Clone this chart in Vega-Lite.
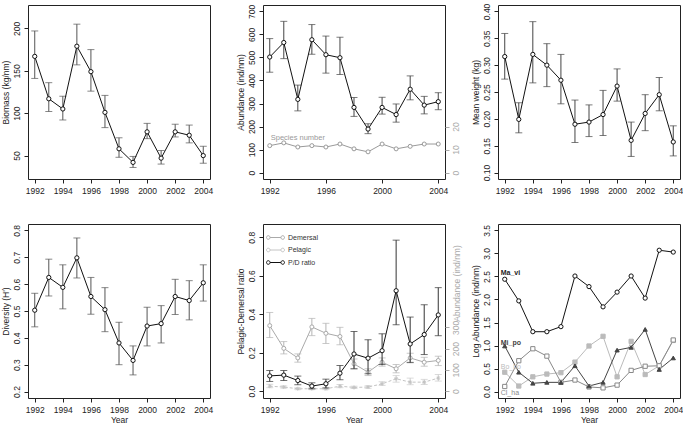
{
  "$schema": "https://vega.github.io/schema/vega-lite/v6.json",
  "background": "white",
  "padding": {"left": 0, "top": 2, "right": 0, "bottom": 0},
  "config": {
    "font": "Liberation Sans",
    "view": {"stroke": "#222", "strokeWidth": 1},
    "axis": {"grid": false, "domain": false, "ticks": true, "tickColor": "#222", "tickSize": 4, "tickWidth": 1, "labelColor": "#222", "labelFontSize": 8.5, "titleFontSize": 8.5, "titleFontWeight": "normal", "titleColor": "#222", "labelFlush": false, "labelOverlap": false, "labelFont": "Liberation Sans", "titleFont": "Liberation Sans"},
    "axisX": {"labelAngle": 0, "labelPadding": 3, "titlePadding": 2},
    "axisY": {"labelAngle": -90, "labelAlign": "center"},
    "axisLeft": {"labelBaseline": "bottom", "labelPadding": 3, "titlePadding": 2},
    "axisRight": {"labelBaseline": "top", "labelPadding": 2, "tickColor": "#aaaaaa", "labelColor": "#aaaaaa", "titleColor": "#aaaaaa"}
  },
  "datasets": {
    "a": [
      {"year": 1992, "v": 167, "lo": 141, "hi": 197},
      {"year": 1993, "v": 117, "lo": 102, "hi": 136},
      {"year": 1994, "v": 105, "lo": 92, "hi": 120},
      {"year": 1995, "v": 179, "lo": 157, "hi": 205},
      {"year": 1996, "v": 149, "lo": 126, "hi": 175},
      {"year": 1997, "v": 101, "lo": 83, "hi": 121},
      {"year": 1998, "v": 58, "lo": 48, "hi": 71},
      {"year": 1999, "v": 42, "lo": 36, "hi": 49},
      {"year": 2000, "v": 78, "lo": 70, "hi": 88},
      {"year": 2001, "v": 47, "lo": 40, "hi": 56},
      {"year": 2002, "v": 78, "lo": 72, "hi": 87},
      {"year": 2003, "v": 74, "lo": 65, "hi": 86},
      {"year": 2004, "v": 50, "lo": 41, "hi": 61}
    ],
    "b": [
      {"year": 1992, "v": 502, "lo": 436, "hi": 582},
      {"year": 1993, "v": 565, "lo": 495, "hi": 657},
      {"year": 1994, "v": 318, "lo": 268, "hi": 380},
      {"year": 1995, "v": 577, "lo": 514, "hi": 643},
      {"year": 1996, "v": 512, "lo": 432, "hi": 593},
      {"year": 1997, "v": 499, "lo": 426, "hi": 588},
      {"year": 1998, "v": 283, "lo": 244, "hi": 326},
      {"year": 1999, "v": 189, "lo": 169, "hi": 212},
      {"year": 2000, "v": 283, "lo": 254, "hi": 327},
      {"year": 2001, "v": 252, "lo": 219, "hi": 298},
      {"year": 2002, "v": 362, "lo": 316, "hi": 420},
      {"year": 2003, "v": 293, "lo": 255, "hi": 331},
      {"year": 2004, "v": 308, "lo": 273, "hi": 347}
    ],
    "bs": [
      {"year": 1992, "n": 11.7}, {"year": 1993, "n": 12.9}, {"year": 1994, "n": 11.1},
      {"year": 1995, "n": 11.7}, {"year": 1996, "n": 11.1}, {"year": 1997, "n": 12.4},
      {"year": 1998, "n": 10.3}, {"year": 1999, "n": 9.0}, {"year": 2000, "n": 12.4},
      {"year": 2001, "n": 10.3}, {"year": 2002, "n": 11.4}, {"year": 2003, "n": 12.4},
      {"year": 2004, "n": 12.4}
    ],
    "c": [
      {"year": 1992, "v": 0.316, "lo": 0.274, "hi": 0.359},
      {"year": 1993, "v": 0.199, "lo": 0.174, "hi": 0.230},
      {"year": 1994, "v": 0.320, "lo": 0.267, "hi": 0.381},
      {"year": 1995, "v": 0.300, "lo": 0.260, "hi": 0.340},
      {"year": 1996, "v": 0.272, "lo": 0.228, "hi": 0.320},
      {"year": 1997, "v": 0.190, "lo": 0.156, "hi": 0.235},
      {"year": 1998, "v": 0.194, "lo": 0.167, "hi": 0.226},
      {"year": 1999, "v": 0.208, "lo": 0.169, "hi": 0.253},
      {"year": 2000, "v": 0.261, "lo": 0.233, "hi": 0.293},
      {"year": 2001, "v": 0.160, "lo": 0.130, "hi": 0.194},
      {"year": 2002, "v": 0.210, "lo": 0.178, "hi": 0.245},
      {"year": 2003, "v": 0.245, "lo": 0.215, "hi": 0.277},
      {"year": 2004, "v": 0.157, "lo": 0.131, "hi": 0.187}
    ],
    "d": [
      {"year": 1992, "v": 0.503, "lo": 0.441, "hi": 0.566},
      {"year": 1993, "v": 0.625, "lo": 0.556, "hi": 0.693},
      {"year": 1994, "v": 0.588, "lo": 0.508, "hi": 0.672},
      {"year": 1995, "v": 0.698, "lo": 0.623, "hi": 0.772},
      {"year": 1996, "v": 0.554, "lo": 0.488, "hi": 0.625},
      {"year": 1997, "v": 0.505, "lo": 0.423, "hi": 0.587},
      {"year": 1998, "v": 0.381, "lo": 0.300, "hi": 0.458},
      {"year": 1999, "v": 0.316, "lo": 0.262, "hi": 0.370},
      {"year": 2000, "v": 0.444, "lo": 0.370, "hi": 0.514},
      {"year": 2001, "v": 0.453, "lo": 0.381, "hi": 0.520},
      {"year": 2002, "v": 0.554, "lo": 0.487, "hi": 0.618},
      {"year": 2003, "v": 0.539, "lo": 0.467, "hi": 0.613},
      {"year": 2004, "v": 0.605, "lo": 0.537, "hi": 0.672}
    ],
    "e": [
      {"series": "Demersal", "year": 1992, "v": 308, "lo": 252, "hi": 370},
      {"series": "Demersal", "year": 1993, "v": 201, "lo": 175, "hi": 233},
      {"series": "Demersal", "year": 1994, "v": 156, "lo": 136, "hi": 175},
      {"series": "Demersal", "year": 1995, "v": 302, "lo": 261, "hi": 342},
      {"series": "Demersal", "year": 1996, "v": 272, "lo": 224, "hi": 319},
      {"series": "Demersal", "year": 1997, "v": 257, "lo": 218, "hi": 300},
      {"series": "Demersal", "year": 1998, "v": 128, "lo": 105, "hi": 151},
      {"series": "Demersal", "year": 1999, "v": 89, "lo": 73, "hi": 105},
      {"series": "Demersal", "year": 2000, "v": 136, "lo": 117, "hi": 156},
      {"series": "Demersal", "year": 2001, "v": 105, "lo": 86, "hi": 125},
      {"series": "Demersal", "year": 2002, "v": 156, "lo": 136, "hi": 178},
      {"series": "Demersal", "year": 2003, "v": 136, "lo": 117, "hi": 159},
      {"series": "Demersal", "year": 2004, "v": 144, "lo": 120, "hi": 164},
      {"series": "Pelagic", "year": 1992, "v": 23, "lo": 16, "hi": 32},
      {"series": "Pelagic", "year": 1993, "v": 19, "lo": 14, "hi": 24},
      {"series": "Pelagic", "year": 1994, "v": 11, "lo": 7, "hi": 15},
      {"series": "Pelagic", "year": 1995, "v": 11, "lo": 7, "hi": 15},
      {"series": "Pelagic", "year": 1996, "v": 11, "lo": 7, "hi": 16},
      {"series": "Pelagic", "year": 1997, "v": 23, "lo": 16, "hi": 31},
      {"series": "Pelagic", "year": 1998, "v": 17, "lo": 12, "hi": 23},
      {"series": "Pelagic", "year": 1999, "v": 19, "lo": 13, "hi": 25},
      {"series": "Pelagic", "year": 2000, "v": 34, "lo": 27, "hi": 44},
      {"series": "Pelagic", "year": 2001, "v": 58, "lo": 42, "hi": 73},
      {"series": "Pelagic", "year": 2002, "v": 42, "lo": 30, "hi": 61},
      {"series": "Pelagic", "year": 2003, "v": 42, "lo": 31, "hi": 55},
      {"series": "Pelagic", "year": 2004, "v": 61, "lo": 47, "hi": 78}
    ],
    "er": [
      {"year": 1992, "v": 0.079, "lo": 0.050, "hi": 0.107},
      {"year": 1993, "v": 0.083, "lo": 0.055, "hi": 0.107},
      {"year": 1994, "v": 0.055, "lo": 0.033, "hi": 0.078},
      {"year": 1995, "v": 0.026, "lo": 0.012, "hi": 0.043},
      {"year": 1996, "v": 0.038, "lo": 0.016, "hi": 0.062},
      {"year": 1997, "v": 0.093, "lo": 0.059, "hi": 0.133},
      {"year": 1998, "v": 0.193, "lo": 0.116, "hi": 0.310},
      {"year": 1999, "v": 0.171, "lo": 0.090, "hi": 0.267},
      {"year": 2000, "v": 0.210, "lo": 0.138, "hi": 0.298},
      {"year": 2001, "v": 0.522, "lo": 0.345, "hi": 0.785},
      {"year": 2002, "v": 0.245, "lo": 0.148, "hi": 0.385},
      {"year": 2003, "v": 0.294, "lo": 0.190, "hi": 0.449},
      {"year": 2004, "v": 0.396, "lo": 0.288, "hi": 0.538}
    ],
    "f": [
      {"sp": "Bo_bo", "year": 1992, "v": 0.42}, {"sp": "Bo_bo", "year": 1993, "v": 0.12}, {"sp": "Bo_bo", "year": 1994, "v": 0.32},
      {"sp": "Bo_bo", "year": 1995, "v": 0.38}, {"sp": "Bo_bo", "year": 1996, "v": 0.41}, {"sp": "Bo_bo", "year": 1997, "v": 0.64},
      {"sp": "Bo_bo", "year": 1998, "v": 0.99}, {"sp": "Bo_bo", "year": 1999, "v": 1.20}, {"sp": "Bo_bo", "year": 2000, "v": 0.32},
      {"sp": "Bo_bo", "year": 2001, "v": 1.09}, {"sp": "Bo_bo", "year": 2002, "v": 0.37}, {"sp": "Bo_bo", "year": 2003, "v": 0.56},
      {"sp": "Bo_bo", "year": 2004, "v": 1.11},
      {"sp": "Cl_ha", "year": 1992, "v": 0.11}, {"sp": "Cl_ha", "year": 1993, "v": 0.67}, {"sp": "Cl_ha", "year": 1994, "v": 0.93},
      {"sp": "Cl_ha", "year": 1995, "v": 0.77}, {"sp": "Cl_ha", "year": 1996, "v": 0.20}, {"sp": "Cl_ha", "year": 1997, "v": 0.25},
      {"sp": "Cl_ha", "year": 1998, "v": 0.10}, {"sp": "Cl_ha", "year": 1999, "v": 0.08}, {"sp": "Cl_ha", "year": 2000, "v": 0.14},
      {"sp": "Cl_ha", "year": 2001, "v": 0.46}, {"sp": "Cl_ha", "year": 2002, "v": 0.55}, {"sp": "Cl_ha", "year": 2003, "v": 0.56},
      {"sp": "Cl_ha", "year": 2004, "v": 1.12},
      {"sp": "Mi_po", "year": 1992, "v": 0.99}, {"sp": "Mi_po", "year": 1993, "v": 0.42}, {"sp": "Mi_po", "year": 1994, "v": 0.18},
      {"sp": "Mi_po", "year": 1995, "v": 0.20}, {"sp": "Mi_po", "year": 1996, "v": 0.20}, {"sp": "Mi_po", "year": 1997, "v": 0.56},
      {"sp": "Mi_po", "year": 1998, "v": 0.12}, {"sp": "Mi_po", "year": 1999, "v": 0.20}, {"sp": "Mi_po", "year": 2000, "v": 0.90},
      {"sp": "Mi_po", "year": 2001, "v": 0.96}, {"sp": "Mi_po", "year": 2002, "v": 1.35}, {"sp": "Mi_po", "year": 2003, "v": 0.48},
      {"sp": "Mi_po", "year": 2004, "v": 0.73},
      {"sp": "Ma_vi", "year": 1992, "v": 2.44}, {"sp": "Ma_vi", "year": 1993, "v": 1.97}, {"sp": "Ma_vi", "year": 1994, "v": 1.30},
      {"sp": "Ma_vi", "year": 1995, "v": 1.30}, {"sp": "Ma_vi", "year": 1996, "v": 1.41}, {"sp": "Ma_vi", "year": 1997, "v": 2.51},
      {"sp": "Ma_vi", "year": 1998, "v": 2.28}, {"sp": "Ma_vi", "year": 1999, "v": 1.84}, {"sp": "Ma_vi", "year": 2000, "v": 2.16},
      {"sp": "Ma_vi", "year": 2001, "v": 2.51}, {"sp": "Ma_vi", "year": 2002, "v": 2.03}, {"sp": "Ma_vi", "year": 2003, "v": 3.07},
      {"sp": "Ma_vi", "year": 2004, "v": 3.03}
    ]
  },
  "columns": 3,
  "spacing": {"row": 45, "column": 53},
  "bounds": "flush",
  "resolve": {
    "scale": {"stroke": "independent", "fill": "independent", "shape": "independent"},
    "legend": {"stroke": "independent", "fill": "independent", "shape": "independent"}
  },
  "concat": [
    {
      "width": 182, "height": 174,
      "data": {"name": "a"},
      "encoding": {
        "x": {"field": "year", "type": "quantitative", "scale": {"domain": [1991.52, 2004.48], "nice": false, "zero": false}, "axis": {"values": [1992, 1994, 1996, 1998, 2000, 2002, 2004], "format": "d", "title": null}},
        "y": {"field": "v", "type": "quantitative", "scale": {"domain": [22.4, 227.6], "nice": false, "zero": false}, "axis": {"values": [50, 100, 150, 200], "format": "d"}, "title": "Biomass (kg/nm)"}
      },
      "layer": [
        {"mark": {"type": "rule", "color": "#555"}, "encoding": {"y": {"field": "lo", "type": "quantitative", "scale": {"domain": [22.4, 227.6], "nice": false, "zero": false}, "title": "Biomass (kg/nm)"}, "y2": {"field": "hi"}}},
        {"mark": {"type": "tick", "orient": "horizontal", "size": 7, "thickness": 1, "color": "#555"}, "encoding": {"y": {"field": "lo", "type": "quantitative", "scale": {"domain": [22.4, 227.6], "nice": false, "zero": false}, "title": "Biomass (kg/nm)"}}},
        {"mark": {"type": "tick", "orient": "horizontal", "size": 7, "thickness": 1, "color": "#555"}, "encoding": {"y": {"field": "hi", "type": "quantitative", "scale": {"domain": [22.4, 227.6], "nice": false, "zero": false}, "title": "Biomass (kg/nm)"}}},
        {"mark": {"type": "line", "color": "#111", "strokeWidth": 1}},
        {"mark": {"type": "point", "shape": "circle", "filled": true, "fill": "white", "stroke": "#111", "strokeWidth": 1, "size": 18, "opacity": 1}},
        {"data": {"values": [{"lab": "a"}]}, "mark": {"type": "text", "align": "right", "baseline": "middle", "fontSize": 14, "color": "#111"}, "encoding": {"x": {"datum": 2004.05}, "y": {"datum": 213.4}, "text": {"field": "lab"}}}
      ]
    },
    {
      "width": 182, "height": 174,
      "resolve": {"scale": {"y": "independent"}},
      "layer": [
        {
          "data": {"name": "b"},
          "encoding": {
            "x": {"field": "year", "type": "quantitative", "scale": {"domain": [1991.52, 2004.48], "nice": false, "zero": false}, "axis": {"values": [1992, 1994, 1996, 1998, 2000, 2002, 2004], "format": "d", "title": null}},
            "y": {"field": "v", "type": "quantitative", "scale": {"domain": [-28, 728], "nice": false, "zero": false}, "axis": {"orient": "left", "values": [0, 100, 200, 300, 400, 500, 600, 700], "format": "d"}, "title": "Abundance (ind/nm)"}
          },
          "layer": [
            {"mark": {"type": "rule", "color": "#444"}, "encoding": {"y": {"field": "lo", "type": "quantitative", "scale": {"domain": [-28, 728], "nice": false, "zero": false}, "title": "Abundance (ind/nm)"}, "y2": {"field": "hi"}}},
            {"mark": {"type": "tick", "orient": "horizontal", "size": 7, "thickness": 1, "color": "#444"}, "encoding": {"y": {"field": "lo", "type": "quantitative", "scale": {"domain": [-28, 728], "nice": false, "zero": false}, "title": "Abundance (ind/nm)"}}},
            {"mark": {"type": "tick", "orient": "horizontal", "size": 7, "thickness": 1, "color": "#444"}, "encoding": {"y": {"field": "hi", "type": "quantitative", "scale": {"domain": [-28, 728], "nice": false, "zero": false}, "title": "Abundance (ind/nm)"}}},
            {"mark": {"type": "line", "color": "#111", "strokeWidth": 1}},
            {"mark": {"type": "point", "shape": "circle", "filled": true, "fill": "white", "stroke": "#111", "strokeWidth": 1, "size": 18, "opacity": 1}},
            {"data": {"values": [{"lab": "b"}]}, "mark": {"type": "text", "align": "right", "baseline": "middle", "fontSize": 14, "color": "#111"}, "encoding": {"x": {"datum": 2004.05}, "y": {"datum": 676}, "text": {"field": "lab"}}}
          ]
        },
        {
          "data": {"name": "bs"},
          "encoding": {
            "x": {"field": "year", "type": "quantitative", "scale": {"domain": [1991.52, 2004.48], "nice": false, "zero": false}},
            "y": {"field": "n", "type": "quantitative", "scale": {"domain": [-2.8, 72.8], "nice": false, "zero": false}, "axis": {"orient": "right", "values": [0, 10, 20], "format": "d", "title": null}}
          },
          "layer": [
            {"mark": {"type": "line", "color": "#9a9a9a", "strokeWidth": 1}},
            {"mark": {"type": "point", "shape": "circle", "filled": true, "fill": "white", "stroke": "#9a9a9a", "strokeWidth": 1, "size": 16, "opacity": 1}},
            {"transform": [{"filter": "datum.year == 1992"}], "mark": {"type": "text", "align": "left", "baseline": "middle", "dx": 1, "dy": -8, "fontSize": 7.5, "color": "#9a9a9a", "text": "Species number"}}
          ]
        }
      ]
    },
    {
      "width": 182, "height": 174,
      "data": {"name": "c"},
      "encoding": {
        "x": {"field": "year", "type": "quantitative", "scale": {"domain": [1991.52, 2004.48], "nice": false, "zero": false}, "axis": {"values": [1992, 1994, 1996, 1998, 2000, 2002, 2004], "format": "d", "title": null}},
        "y": {"field": "v", "type": "quantitative", "scale": {"domain": [0.088, 0.412], "nice": false, "zero": false}, "axis": {"values": [0.1, 0.15, 0.2, 0.25, 0.3, 0.35, 0.4], "format": ".2f"}, "title": "Mean weight (kg)"}
      },
      "layer": [
        {"mark": {"type": "rule", "color": "#444"}, "encoding": {"y": {"field": "lo", "type": "quantitative", "scale": {"domain": [0.088, 0.412], "nice": false, "zero": false}, "title": "Mean weight (kg)"}, "y2": {"field": "hi"}}},
        {"mark": {"type": "tick", "orient": "horizontal", "size": 7, "thickness": 1, "color": "#444"}, "encoding": {"y": {"field": "lo", "type": "quantitative", "scale": {"domain": [0.088, 0.412], "nice": false, "zero": false}, "title": "Mean weight (kg)"}}},
        {"mark": {"type": "tick", "orient": "horizontal", "size": 7, "thickness": 1, "color": "#444"}, "encoding": {"y": {"field": "hi", "type": "quantitative", "scale": {"domain": [0.088, 0.412], "nice": false, "zero": false}, "title": "Mean weight (kg)"}}},
        {"mark": {"type": "line", "color": "#111", "strokeWidth": 1}},
        {"mark": {"type": "point", "shape": "circle", "filled": true, "fill": "white", "stroke": "#111", "strokeWidth": 1, "size": 18, "opacity": 1}},
        {"data": {"values": [{"lab": "c"}]}, "mark": {"type": "text", "align": "right", "baseline": "middle", "fontSize": 14, "color": "#111"}, "encoding": {"x": {"datum": 2004.05}, "y": {"datum": 0.39}, "text": {"field": "lab"}}}
      ]
    },
    {
      "width": 182, "height": 174,
      "data": {"name": "d"},
      "encoding": {
        "x": {"field": "year", "type": "quantitative", "scale": {"domain": [1991.52, 2004.48], "nice": false, "zero": false}, "axis": {"values": [1992, 1994, 1996, 1998, 2000, 2002, 2004], "format": "d", "title": "Year"}},
        "y": {"field": "v", "type": "quantitative", "scale": {"domain": [0.176, 0.824], "nice": false, "zero": false}, "axis": {"values": [0.2, 0.3, 0.4, 0.5, 0.6, 0.7, 0.8], "format": ".1f"}, "title": "Diversity (H')"}
      },
      "layer": [
        {"mark": {"type": "rule", "color": "#555"}, "encoding": {"y": {"field": "lo", "type": "quantitative", "scale": {"domain": [0.176, 0.824], "nice": false, "zero": false}, "title": "Diversity (H')"}, "y2": {"field": "hi"}}},
        {"mark": {"type": "tick", "orient": "horizontal", "size": 7, "thickness": 1, "color": "#555"}, "encoding": {"y": {"field": "lo", "type": "quantitative", "scale": {"domain": [0.176, 0.824], "nice": false, "zero": false}, "title": "Diversity (H')"}}},
        {"mark": {"type": "tick", "orient": "horizontal", "size": 7, "thickness": 1, "color": "#555"}, "encoding": {"y": {"field": "hi", "type": "quantitative", "scale": {"domain": [0.176, 0.824], "nice": false, "zero": false}, "title": "Diversity (H')"}}},
        {"mark": {"type": "line", "color": "#111", "strokeWidth": 1}},
        {"mark": {"type": "point", "shape": "circle", "filled": true, "fill": "white", "stroke": "#111", "strokeWidth": 1, "size": 18, "opacity": 1}},
        {"data": {"values": [{"lab": "d"}]}, "mark": {"type": "text", "align": "right", "baseline": "middle", "fontSize": 14, "color": "#111"}, "encoding": {"x": {"datum": 2004.05}, "y": {"datum": 0.779}, "text": {"field": "lab"}}}
      ]
    },
    {
      "width": 182, "height": 174,
      "resolve": {"scale": {"y": "independent"}},
      "layer": [
        {
          "data": {"name": "e"},
          "encoding": {
            "x": {"field": "year", "type": "quantitative", "scale": {"domain": [1991.52, 2004.48], "nice": false, "zero": false}, "axis": {"values": [1992, 1994, 1996, 1998, 2000, 2002, 2004], "format": "d", "title": "Year"}},
            "y": {"field": "v", "type": "quantitative", "scale": {"domain": [-32.6, 786.4], "nice": false, "zero": false}, "axis": {"orient": "right", "values": [0, 100, 200, 300], "format": "d", "titleAngle": 270, "titleX": 11, "titleY": 59, "titleAlign": "center", "titleBaseline": "middle"}, "title": "Abundance (ind/nm)"}
          },
          "layer": [
            {"transform": [{"filter": "datum.series == 'Demersal'"}], "mark": {"type": "rule", "color": "#b4b4b4"}, "encoding": {"y": {"field": "lo", "type": "quantitative", "scale": {"domain": [-32.6, 786.4], "nice": false, "zero": false}, "title": "Abundance (ind/nm)"}, "y2": {"field": "hi"}}},
            {"transform": [{"filter": "datum.series == 'Demersal'"}], "mark": {"type": "tick", "orient": "horizontal", "size": 7, "thickness": 1, "color": "#b4b4b4"}, "encoding": {"y": {"field": "lo", "type": "quantitative", "scale": {"domain": [-32.6, 786.4], "nice": false, "zero": false}, "title": "Abundance (ind/nm)"}}},
            {"transform": [{"filter": "datum.series == 'Demersal'"}], "mark": {"type": "tick", "orient": "horizontal", "size": 7, "thickness": 1, "color": "#b4b4b4"}, "encoding": {"y": {"field": "hi", "type": "quantitative", "scale": {"domain": [-32.6, 786.4], "nice": false, "zero": false}, "title": "Abundance (ind/nm)"}}},
            {"transform": [{"filter": "datum.series == 'Pelagic'"}], "mark": {"type": "rule", "color": "#cccccc"}, "encoding": {"y": {"field": "lo", "type": "quantitative", "scale": {"domain": [-32.6, 786.4], "nice": false, "zero": false}, "title": "Abundance (ind/nm)"}, "y2": {"field": "hi"}}},
            {"transform": [{"filter": "datum.series == 'Pelagic'"}], "mark": {"type": "tick", "orient": "horizontal", "size": 7, "thickness": 1, "color": "#cccccc"}, "encoding": {"y": {"field": "lo", "type": "quantitative", "scale": {"domain": [-32.6, 786.4], "nice": false, "zero": false}, "title": "Abundance (ind/nm)"}}},
            {"transform": [{"filter": "datum.series == 'Pelagic'"}], "mark": {"type": "tick", "orient": "horizontal", "size": 7, "thickness": 1, "color": "#cccccc"}, "encoding": {"y": {"field": "hi", "type": "quantitative", "scale": {"domain": [-32.6, 786.4], "nice": false, "zero": false}, "title": "Abundance (ind/nm)"}}},
            {"transform": [{"filter": "datum.series == 'Demersal'"}], "mark": {"type": "line", "strokeWidth": 1},
             "encoding": {"stroke": {"field": "series", "type": "nominal", "scale": {"domain": ["Demersal", "Pelagic", "P/D ratio"], "range": ["#aaaaaa", "#c4c4c4", "#111111"]},
               "legend": {"orient": "none", "legendX": 3, "legendY": 9, "title": null, "symbolType": "M-1,0A0.45,0.45 0 1,1 -0.1,0A0.45,0.45 0 1,1 -1,0M-0.1,0L2.6,0M2.6,0A0.45,0.45 0 1,1 3.5,0A0.45,0.45 0 1,1 2.6,0", "symbolSize": 64, "symbolStrokeWidth": 1, "symbolFillColor": "white", "labelFontSize": 7, "labelColor": "#333", "labelOffset": 13, "rowPadding": 3.5, "padding": 0}}}},
            {"transform": [{"filter": "datum.series == 'Pelagic'"}], "mark": {"type": "line", "strokeWidth": 1, "strokeDash": [3, 2]},
             "encoding": {"stroke": {"field": "series", "type": "nominal", "scale": {"domain": ["Demersal", "Pelagic", "P/D ratio"], "range": ["#aaaaaa", "#c4c4c4", "#111111"]}}}},
            {"transform": [{"filter": "datum.series == 'Demersal'"}], "mark": {"type": "point", "shape": "circle", "filled": true, "fill": "white", "strokeWidth": 1, "size": 16, "opacity": 1},
             "encoding": {"stroke": {"field": "series", "type": "nominal", "scale": {"domain": ["Demersal", "Pelagic", "P/D ratio"], "range": ["#aaaaaa", "#c4c4c4", "#111111"]}}}},
            {"transform": [{"filter": "datum.series == 'Pelagic'"}], "mark": {"type": "point", "shape": "M-1,0L1,0M0,-1L0,1M-0.7,-0.7L0.7,0.7M-0.7,0.7L0.7,-0.7", "filled": false, "strokeWidth": 1, "size": 16, "opacity": 1},
             "encoding": {"stroke": {"field": "series", "type": "nominal", "scale": {"domain": ["Demersal", "Pelagic", "P/D ratio"], "range": ["#aaaaaa", "#c4c4c4", "#111111"]}}}}
          ]
        },
        {
          "data": {"name": "er"},
          "encoding": {
            "x": {"field": "year", "type": "quantitative", "scale": {"domain": [1991.52, 2004.48], "nice": false, "zero": false}},
            "y": {"field": "v", "type": "quantitative", "scale": {"domain": [-0.036, 0.869], "nice": false, "zero": false}, "axis": {"orient": "left", "values": [0, 0.2, 0.4, 0.6, 0.8], "format": ".1f"}, "title": "Pelagic-Demersal ratio"}
          },
          "layer": [
            {"mark": {"type": "rule", "color": "#333"}, "encoding": {"y": {"field": "lo", "type": "quantitative", "scale": {"domain": [-0.036, 0.869], "nice": false, "zero": false}, "title": "Pelagic-Demersal ratio"}, "y2": {"field": "hi"}}},
            {"mark": {"type": "tick", "orient": "horizontal", "size": 7, "thickness": 1, "color": "#333"}, "encoding": {"y": {"field": "lo", "type": "quantitative", "scale": {"domain": [-0.036, 0.869], "nice": false, "zero": false}, "title": "Pelagic-Demersal ratio"}}},
            {"mark": {"type": "tick", "orient": "horizontal", "size": 7, "thickness": 1, "color": "#333"}, "encoding": {"y": {"field": "hi", "type": "quantitative", "scale": {"domain": [-0.036, 0.869], "nice": false, "zero": false}, "title": "Pelagic-Demersal ratio"}}},
            {"mark": {"type": "line", "color": "#111", "strokeWidth": 1}},
            {"mark": {"type": "point", "shape": "circle", "filled": true, "fill": "white", "stroke": "#111", "strokeWidth": 1, "size": 18, "opacity": 1}},
            {"data": {"values": [{"lab": "e"}]}, "mark": {"type": "text", "align": "right", "baseline": "middle", "fontSize": 14, "color": "#111"}, "encoding": {"x": {"datum": 2004.05}, "y": {"datum": 0.807}, "text": {"field": "lab"}}}
          ]
        }
      ]
    },
    {
      "width": 182, "height": 174,
      "data": {"name": "f"},
      "encoding": {
        "x": {"field": "year", "type": "quantitative", "scale": {"domain": [1991.52, 2004.48], "nice": false, "zero": false}, "axis": {"values": [1992, 1994, 1996, 1998, 2000, 2002, 2004], "format": "d", "title": "Year"}},
        "y": {"field": "v", "type": "quantitative", "scale": {"domain": [-0.14, 3.64], "nice": false, "zero": false}, "axis": {"values": [0, 0.5, 1, 1.5, 2, 2.5, 3, 3.5], "format": ".1f"}, "title": "Log Abundance (ind/nm)"}
      },
      "layer": [
        {"mark": {"type": "line", "strokeWidth": 1},
         "encoding": {"stroke": {"field": "sp", "type": "nominal", "scale": {"domain": ["Bo_bo", "Cl_ha", "Mi_po", "Ma_vi"], "range": ["#bbbbbb", "#888888", "#444444", "#111111"]}, "legend": null}}},
        {"mark": {"type": "point", "filled": true, "strokeWidth": 1, "size": 18, "opacity": 1},
         "encoding": {
           "stroke": {"field": "sp", "type": "nominal", "scale": {"domain": ["Bo_bo", "Cl_ha", "Mi_po", "Ma_vi"], "range": ["#bbbbbb", "#888888", "#444444", "#111111"]}, "legend": null},
           "fill": {"field": "sp", "type": "nominal", "scale": {"domain": ["Bo_bo", "Cl_ha", "Mi_po", "Ma_vi"], "range": ["#bbbbbb", "#ffffff", "#444444", "#ffffff"]}, "legend": null},
           "shape": {"field": "sp", "type": "nominal", "scale": {"domain": ["Bo_bo", "Cl_ha", "Mi_po", "Ma_vi"], "range": ["square", "square", "triangle-up", "circle"]}, "legend": null}
         }},
        {"transform": [{"filter": "datum.year == 1992 && datum.sp == 'Ma_vi'"}], "mark": {"type": "text", "align": "left", "baseline": "middle", "dx": -4, "dy": -6, "fontSize": 7, "fontWeight": "bold", "color": "#222"}, "encoding": {"text": {"field": "sp"}}},
        {"transform": [{"filter": "datum.year == 1992 && datum.sp == 'Mi_po'"}], "mark": {"type": "text", "align": "left", "baseline": "middle", "dx": -4, "dy": -3, "fontSize": 7, "fontWeight": "bold", "color": "#444"}, "encoding": {"text": {"field": "sp"}}},
        {"transform": [{"filter": "datum.year == 1992 && datum.sp == 'Bo_bo'"}], "mark": {"type": "text", "align": "left", "baseline": "middle", "dx": -4, "dy": -5, "fontSize": 7, "color": "#bbbbbb"}, "encoding": {"text": {"field": "sp"}}},
        {"transform": [{"filter": "datum.year == 1992 && datum.sp == 'Cl_ha'"}], "mark": {"type": "text", "align": "left", "baseline": "middle", "dx": -4, "dy": 7, "fontSize": 7, "color": "#888888"}, "encoding": {"text": {"field": "sp"}}},
        {"data": {"values": [{"lab": "f"}]}, "mark": {"type": "text", "align": "right", "baseline": "middle", "fontSize": 14, "color": "#111"}, "encoding": {"x": {"datum": 2004.05}, "y": {"datum": 3.38}, "text": {"field": "lab"}}}
      ]
    }
  ]
}
